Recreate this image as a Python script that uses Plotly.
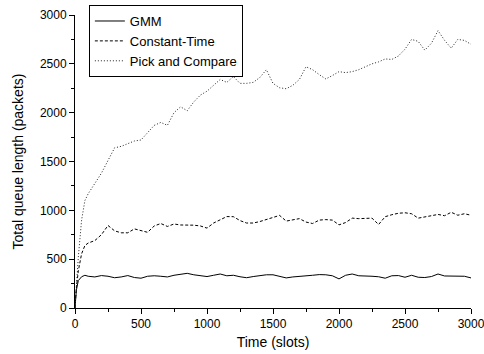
import plotly.graph_objects as go

# Time axis (slots)
time_slots = [0, 10, 25, 50, 75, 100, 150, 200, 250, 300, 350, 400, 450, 500, 550, 600,
              650, 700, 750, 800, 850, 900, 950, 1000, 1050, 1100, 1150, 1200, 1250,
              1300, 1350, 1400, 1450, 1500, 1550, 1600, 1650, 1700, 1750, 1800, 1850,
              1900, 1950, 2000, 2050, 2100, 2150, 2200, 2250, 2300, 2350, 2400, 2450,
              2500, 2550, 2600, 2650, 2700, 2750, 2800, 2850, 2900, 2950, 3000]

gmm = [0, 180, 280, 320, 335, 325, 318, 332, 325, 310, 318, 332, 312, 305, 325, 330,
       325, 318, 335, 345, 355, 340, 330, 322, 335, 348, 330, 335, 320,
       310, 322, 330, 340, 340, 322, 308, 318, 322, 330, 335, 342,
       340, 330, 298, 335, 348, 330, 330, 325, 320, 305, 330, 332,
       315, 335, 315, 312, 322, 348, 328, 325, 322, 325, 308]

constant_time = [0, 200, 380, 555, 640, 665, 690, 750, 845, 790, 770, 770, 810, 790, 775, 840,
                 865, 835, 860, 850, 852, 848, 840, 818, 870, 905, 936, 935, 895,
                 870, 870, 885, 905, 925, 948, 890, 905, 915, 880, 865, 900,
                 905, 900, 851, 875, 920, 915, 920, 920, 855, 935, 955, 970,
                 975, 965, 920, 930, 945, 958, 945, 980, 950, 965, 950]

pick_and_compare = [0, 250, 520, 900, 1100, 1170, 1280, 1380, 1510, 1640, 1655, 1680, 1710, 1720, 1790, 1870,
                    1900, 1870, 2000, 2060, 2020, 2110, 2180, 2220, 2280, 2340, 2310, 2370, 2300,
                    2300, 2310, 2360, 2440, 2300, 2255, 2245, 2280, 2340, 2470, 2440, 2390,
                    2345, 2380, 2420, 2410, 2420, 2440, 2470, 2500, 2520, 2550, 2545, 2580,
                    2650, 2750, 2730, 2640, 2710, 2840, 2740, 2660, 2750, 2740, 2700]

x_ticks = [0, 500, 1000, 1500, 2000, 2500, 3000]
y_ticks = [0, 500, 1000, 1500, 2000, 2500, 3000]

FONT = "Liberation Sans, Arial, sans-serif"

fig = go.Figure()
fig.add_trace(go.Scatter(x=time_slots, y=gmm, mode="lines", name="GMM",
                         line=dict(color="black", width=1)))
fig.add_trace(go.Scatter(x=time_slots, y=constant_time, mode="lines", name="Constant-Time",
                         line=dict(color="black", width=1, dash="3px,2px")))
fig.add_trace(go.Scatter(x=time_slots, y=pick_and_compare, mode="lines", name="Pick and Compare",
                         line=dict(color="#222222", width=1, dash="1px,2px")))

axis_common = dict(
    showgrid=False, zeroline=False, showline=True, linecolor="black", linewidth=1,
    ticks="outside", ticklen=5, tickwidth=1, tickcolor="black",
    tickfont=dict(family=FONT, size=12, color="black"),
    minor=dict(ticks="outside", ticklen=3, tickwidth=1, tickcolor="black", dtick=250),
    mirror=False, ticklabeloverflow="allow",
)

fig.update_layout(
    width=484, height=354,
    margin=dict(l=75, r=13, t=15, b=46, autoexpand=False),
    paper_bgcolor="white", plot_bgcolor="white",
    font=dict(family=FONT, color="black"),
    showlegend=True,
    legend=dict(x=0.035, y=1.034, xanchor="left", yanchor="top",
                bgcolor="white", bordercolor="black", borderwidth=1,
                font=dict(family=FONT, size=13, color="black"),
                tracegroupgap=0, itemwidth=30),
    xaxis=dict(range=[0, 3000], tickvals=x_ticks,
               title=dict(text="Time (slots)", font=dict(family=FONT, size=14), standoff=6),
               **axis_common),
    yaxis=dict(range=[0, 3000], tickvals=y_ticks,
               title=dict(text="Total queue length (packets)", font=dict(family=FONT, size=14), standoff=12),
               **axis_common),
)

fig.write_html("out.html")
